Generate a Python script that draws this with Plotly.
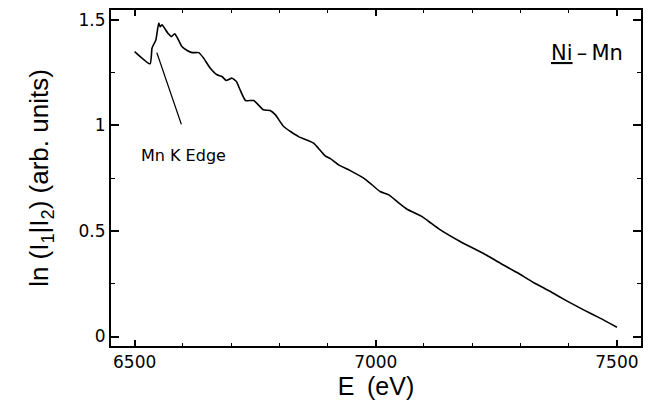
import plotly.graph_objects as go

# Data
energy_ev = [6500, 6532, 6536, 6539, 6544, 6550, 6553, 6557, 6562, 6570, 6576, 6583, 6589,
             6598, 6609, 6619, 6633, 6643, 6657, 6671, 6681, 6690, 6702, 6711, 6719, 6730,
             6747, 6767, 6781, 6792, 6809, 6840, 6871, 6881, 6895, 6906, 6923, 6947, 6975,
             6992, 7009, 7027, 7044, 7065, 7096, 7110, 7134, 7175, 7230, 7260, 7293, 7327,
             7362, 7396, 7431, 7465, 7500]
ln_ratio = [1.350, 1.292, 1.366, 1.382, 1.405, 1.485, 1.468, 1.477, 1.461, 1.434, 1.421,
            1.434, 1.414, 1.374, 1.355, 1.345, 1.345, 1.319, 1.271, 1.240, 1.232, 1.213,
            1.224, 1.208, 1.167, 1.118, 1.118, 1.074, 1.071, 1.050, 0.995, 0.947, 0.916,
            0.892, 0.856, 0.843, 0.813, 0.786, 0.750, 0.719, 0.687, 0.671, 0.640, 0.603,
            0.568, 0.545, 0.505, 0.450, 0.385, 0.345, 0.303, 0.256, 0.213, 0.169, 0.126,
            0.087, 0.044]

x_tick_vals = [6500, 7000, 7500]
x_tick_text = ["6500", "7000", "7500"]
y_tick_vals = [0, 0.5, 1, 1.5]
y_tick_text = ["0", "0.5", "1", "1.5"]

edge_pointer = {"x": 6546, "y": 1.345, "ax": 6598, "ay": 0.998}
edge_label = {"x": 6601, "y": 0.856, "text": "Mn K Edge"}
sample_label = {"x": 7438, "y": 1.345, "text": "<u>Ni</u>\u2009\u2013\u2009Mn"}

fig = go.Figure()
fig.add_trace(go.Scatter(
    x=energy_ev, y=ln_ratio, mode="lines",
    line=dict(color="black", width=1.6, shape="spline", smoothing=0.5),
    showlegend=False, hoverinfo="skip"))

fig.add_annotation(x=edge_pointer["x"], y=edge_pointer["y"],
                   ax=edge_pointer["ax"], ay=edge_pointer["ay"],
                   axref="x", ayref="y", xref="x", yref="y",
                   text="", showarrow=True, arrowhead=0, arrowwidth=1.3,
                   arrowcolor="black", standoff=0, startstandoff=0)
fig.add_annotation(x=edge_label["x"], y=edge_label["y"], xref="x", yref="y",
                   text=edge_label["text"], showarrow=False,
                   font=dict(family="DejaVu Sans", size=16, color="black"))
fig.add_annotation(x=sample_label["x"], y=sample_label["y"], xref="x", yref="y",
                   text=sample_label["text"], showarrow=False,
                   font=dict(family="DejaVu Sans", size=21, color="black"))

axis_common = dict(
    showgrid=False, zeroline=False, showline=True, linecolor="black", linewidth=2,
    mirror="ticks", ticks="inside", tickcolor="black", tickwidth=1.5, automargin=False,
    tickfont=dict(family="DejaVu Sans", size=17, color="black"),
)

fig.update_xaxes(
    **axis_common, range=[6451, 7550], tickvals=x_tick_vals, ticktext=x_tick_text,
    ticklen=6,
    minor=dict(ticks="inside", ticklen=3, dtick=100, tick0=6500, tickcolor="black",
               tickwidth=1.2, showgrid=False),
    title=dict(text="E\u2002(eV)", font=dict(family="Liberation Sans", size=25, color="black"),
               standoff=3),
)
fig.update_yaxes(
    **axis_common, range=[-0.045, 1.547], tickvals=y_tick_vals, ticktext=y_tick_text,
    ticklen=8,
    minor=dict(ticks="inside", ticklen=4, dtick=0.25, tick0=0, tickcolor="black",
               tickwidth=1.2, showgrid=False),
    title=dict(text="ln (I<sub>1</sub>|I<sub>2</sub>) (arb. units)",
               font=dict(family="Liberation Sans Narrow, Liberation Sans", size=26,
                         color="black"),
               standoff=22),
)

fig.update_layout(
    width=652, height=402,
    margin=dict(l=111, r=11, t=10, b=56),
    paper_bgcolor="white", plot_bgcolor="white",
)

fig.write_html("out.html", config={"displayModeBar": False},
               post_script="document.body.style.margin='0px';"
                           "document.body.style.overflow='hidden';")
